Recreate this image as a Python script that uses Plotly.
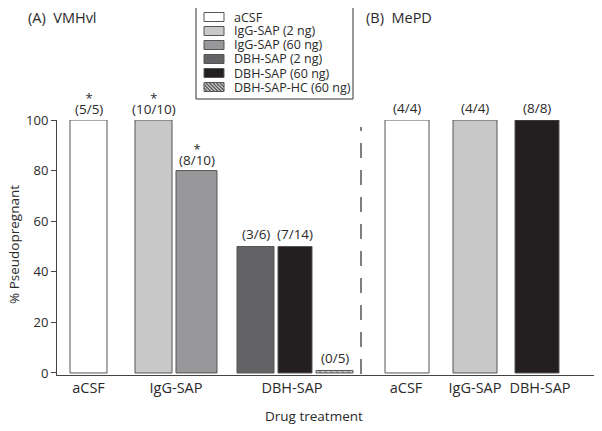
import plotly.graph_objects as go

# ---------------- data ----------------
treatments_A = ["aCSF", "IgG-SAP (2 ng)", "IgG-SAP (60 ng)", "DBH-SAP (2 ng)",
                "DBH-SAP (60 ng)", "DBH-SAP-HC (60 ng)"]
pct_A = [100, 100, 80, 50, 50, 1]
counts_A = ["(5/5)", "(10/10)", "(8/10)", "(3/6)", "(7/14)", "(0/5)"]
sig_A = ["*", "*", "*", "", "", ""]
groups_A = ["aCSF", "IgG-SAP", "DBH-SAP"]

treatments_B = ["aCSF", "IgG-SAP (2 ng)", "DBH-SAP (60 ng)"]
pct_B = [100, 100, 100]
counts_B = ["(4/4)", "(4/4)", "(8/8)"]
groups_B = ["aCSF", "IgG-SAP", "DBH-SAP"]

y_ticks = [0, 20, 40, 60, 80, 100]

# ---------------- layout / style ----------------
W, H = 602, 431
OFF = 8  # page body margin offset of the plot div
# plot area in target-image pixels
PL, PR, PT, PB = 57, 597, 120, 375
ML = PL - OFF
MT = PT - OFF
MR = W - (PR - OFF)
MB = H - (PB - OFF)
PW = PR - PL
PH = PB - PT

pos_A = [31.5, 96.5, 139.5, 198.5, 238, 277.5]
wid_A = [37, 37, 41, 37, 34, 37]
pos_B = [350, 418, 480]
wid_B = [44, 44, 44]
lab_A = [31.5, 119, 235]
lab_B = [349, 418, 483]
divider_x = 304

colors = {
    "aCSF": "#ffffff",
    "IgG-SAP (2 ng)": "#c8c8c9",
    "IgG-SAP (60 ng)": "#98989a",
    "DBH-SAP (2 ng)": "#636365",
    "DBH-SAP (60 ng)": "#231f20",
    "DBH-SAP-HC (60 ng)": "#d0d0d0",
}
EDGE = "#555555"
TXT = "#2a2a2a"
FONT = "Open Sans"

def px(xp):
    return (xp - PL) / PW

def py(yp):
    return (PB - yp) / PH

fig = go.Figure()

for t, v, p, w in zip(treatments_A, pct_A, pos_A, wid_A):
    pattern = dict(shape="\\", fgcolor="#555555", bgcolor=colors[t], size=4, solidity=0.4) \
        if "HC" in t else dict(shape="")
    fig.add_trace(go.Bar(
        x=[p], y=[v], width=[w], name=t, showlegend=False,
        marker=dict(color=colors[t], line=dict(color=EDGE, width=1), pattern=pattern),
        cliponaxis=False, hoverinfo="skip"))

for t, v, p, w in zip(treatments_B, pct_B, pos_B, wid_B):
    fig.add_trace(go.Bar(
        x=[p], y=[v], width=[w], name=t, showlegend=False,
        marker=dict(color=colors[t], line=dict(color=EDGE, width=1)),
        cliponaxis=False, hoverinfo="skip"))

ann = []
for v, p, c, s in zip(pct_A + pct_B, pos_A + pos_B, counts_A + counts_B, sig_A + [""] * 3):
    if s:
        txt = ("<span style='font-size:13px'>%s</span><br>"
               "<span style='font-size:13.5px'>%s</span>" % (s, c))
        ann.append(dict(x=p, y=v, xref="x", yref="y", text=txt, showarrow=False,
                        yanchor="bottom", yshift=0, font=dict(size=8.5, color=TXT)))
    else:
        ann.append(dict(x=p, y=v, xref="x", yref="y", text=c, showarrow=False,
                        yanchor="middle", yshift=12, font=dict(size=13.5, color=TXT)))

# panel titles
ann.append(dict(x=px(26), y=py(17), xref="paper", yref="paper", text="(A)\u00a0\u00a0VMHvl",
                showarrow=False, xanchor="left", yanchor="middle",
                font=dict(size=14.5, color=TXT)))
ann.append(dict(x=px(364), y=py(17), xref="paper", yref="paper", text="(B)\u00a0\u00a0MePD",
                showarrow=False, xanchor="left", yanchor="middle",
                font=dict(size=14.5, color=TXT)))
# axis titles
ann.append(dict(x=px(314), y=py(416), xref="paper", yref="paper", text="Drug treatment",
                showarrow=False, xanchor="center", yanchor="middle",
                font=dict(size=13.5, color=TXT)))
ann.append(dict(x=px(14), y=py(245), xref="paper", yref="paper", text="% Pseudopregnant",
                showarrow=False, xanchor="center", yanchor="middle", textangle=-90,
                font=dict(size=13.5, color=TXT)))

shapes = []
# divider
shapes.append(dict(type="line", xref="x", yref="paper", x0=divider_x, x1=divider_x,
                   y0=py(374), y1=py(127), line=dict(color="#555555", width=1.5, dash="15px,12px")))
# legend box
shapes.append(dict(type="rect", xref="paper", yref="paper", x0=px(196), x1=px(353),
                   y0=py(99), y1=py(5), line=dict(color="#333333", width=1), fillcolor="white"))
for i, t in enumerate(treatments_A):
    cy = 17 + 14 * i
    x0, x1, y0, y1 = 204, 224, cy - 4.5, cy + 4.5
    shapes.append(dict(type="rect", xref="paper", yref="paper", x0=px(x0), x1=px(x1),
                       y0=py(y1), y1=py(y0), line=dict(color=EDGE, width=1),
                       fillcolor=colors[t]))
    if "HC" in t:
        # diagonal hatch "\" clipped to swatch
        hgt = y1 - y0
        s = x0 - hgt
        while s < x1:
            ax, ay = s, y0
            bx, by = s + hgt, y1
            if ax < x0:
                ay = y0 + (x0 - ax)
                ax = x0
            if bx > x1:
                by = y1 - (bx - x1)
                bx = x1
            if bx > ax:
                shapes.append(dict(type="line", xref="paper", yref="paper",
                                   x0=px(ax), y0=py(ay), x1=px(bx), y1=py(by),
                                   line=dict(color="#555555", width=1.3)))
            s += 3.5
    ann.append(dict(x=px(232), y=py(cy), xref="paper", yref="paper", text=t,
                    showarrow=False, xanchor="left", yanchor="middle",
                    font=dict(size=12.5, color=TXT)))

fig.update_layout(
    width=W, height=H,
    margin=dict(l=ML, r=MR, t=MT, b=MB, pad=0),
    paper_bgcolor="white", plot_bgcolor="white",
    font=dict(family=FONT, size=13, color=TXT),
    barmode="overlay",
    showlegend=False,
    annotations=ann, shapes=shapes,
    xaxis=dict(range=[0, PW], showgrid=False, zeroline=False, showline=True,
               linecolor="#444444", linewidth=1, ticks="",
               tickvals=lab_A + lab_B, ticktext=groups_A + groups_B,
               tickfont=dict(size=14.5, color=TXT)),
    yaxis=dict(range=[-0.8, 100], showgrid=False, zeroline=False, showline=True,
               linecolor="#444444", linewidth=1, ticks="outside", ticklen=5,
               tickcolor="#444444", tickvals=y_ticks,
               tickfont=dict(size=13, color=TXT)),
)

fig.write_html("out.html")
